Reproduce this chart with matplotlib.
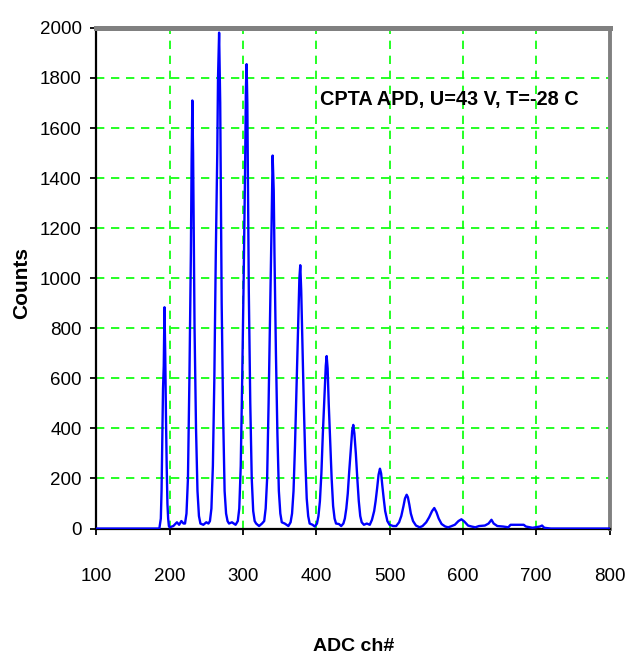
import matplotlib
matplotlib.use("Agg")
import matplotlib.pyplot as plt

# ---- data ----
channels = [
    100, 186, 188, 189, 190, 191, 192, 193, 194, 195, 196, 197, 198, 199, 200,
    205, 210, 213, 216, 219,
    221, 223, 225, 227, 229, 230, 231, 232, 233, 234, 236, 238, 240, 242, 246, 250,
    253, 255, 257, 259, 261, 263, 265, 266, 267.5, 269, 270, 271, 273, 275, 277, 279, 281, 285,
    290, 293, 295, 297, 299, 301, 303, 304, 305, 306, 307, 308, 310, 312, 314, 316, 318, 322,
    326, 329, 331, 333, 335, 337, 339, 340.5, 342, 343, 345, 347, 349, 351, 353, 357,
    362, 365, 367, 369, 371, 373, 375, 377, 378.2, 379.5, 381, 383, 385, 387, 389, 391, 395,
    398, 401, 403, 405, 407, 409, 411, 413, 414.2, 415.5, 417, 419, 421, 423, 425, 427, 431,
    434, 437, 439, 441, 443, 445, 447, 449, 450.5, 452, 454, 456, 458, 460, 462, 465, 469,
    473, 476, 479, 481, 483, 485, 486.9, 488.5, 490, 492, 494, 497, 500, 505,
    509, 513, 516, 519, 521, 523.3, 525, 527, 529, 532, 536, 541,
    545, 550, 554, 558, 561, 564, 567, 571, 576, 580,
    583, 589, 594, 598, 602, 607, 612, 617,
    622, 630, 635, 639, 642, 647, 655, 662,
    665, 683, 686, 695, 705, 708, 711, 720, 800,
]
counts = [
    0, 0, 40, 150, 350, 560, 650, 884, 700, 450, 250, 100, 40, 10, 5,
    10, 25, 15, 30, 20,
    20, 60, 200, 600, 1100, 1470, 1710, 1500, 1165, 800, 400, 150, 50, 20, 15, 25,
    20, 30, 80, 250, 600, 1100, 1500, 1800, 1981, 1700, 1300, 900, 450, 150, 60, 30, 20, 25,
    15, 30, 80, 250, 600, 1000, 1450, 1750, 1855, 1700, 1300, 950, 500, 200, 70, 30, 20, 10,
    20, 30, 80, 200, 500, 850, 1200, 1490, 1350, 1100, 700, 380, 150, 60, 25, 20,
    10, 25, 60, 150, 330, 550, 780, 1000, 1052, 950, 750, 500, 280, 120, 50, 20, 15,
    8, 20, 50, 110, 220, 380, 520, 650, 689, 640, 500, 350, 200, 90, 40, 20, 18,
    10, 20, 40, 80, 140, 230, 310, 390, 414, 380, 300, 200, 110, 50, 25, 15, 20,
    15, 35, 70, 110, 160, 215, 239, 220, 175, 120, 70, 30, 15, 10,
    10, 25, 50, 90, 120, 135, 125, 95, 60, 30, 12, 5,
    10, 25, 45, 70, 82, 65, 40, 18, 8, 5,
    8, 15, 30, 37, 28, 12, 8, 5,
    10, 12, 20, 35, 20, 10, 8, 5,
    15, 15, 8, 3, 8, 12, 3, 0, 0,
]

x_ticks = [100, 200, 300, 400, 500, 600, 700, 800]
y_ticks = [0, 200, 400, 600, 800, 1000, 1200, 1400, 1600, 1800, 2000]
title_text = "CPTA APD, U=43 V, T=-28 C"
x_label = "ADC ch#"
y_label = "Counts"

fam = ["Liberation Sans", "DejaVu Sans"]

fig = plt.figure(figsize=(6.27, 6.64), dpi=100)
ax = fig.add_axes([0.1536, 0.204, 0.8185, 0.754])

ax.plot(channels, counts, color="#0000FF", lw=1.7, zorder=3, solid_joinstyle="round")

ax.set_xlim(100, 800)
ax.set_ylim(0, 2000)
ax.set_xticks(x_ticks)
ax.set_yticks(y_ticks)
ax.set_xticklabels([str(v) for v in x_ticks], family=fam, fontsize=13.5)
ax.set_yticklabels([str(v) for v in y_ticks], family=fam, fontsize=13.5)
ax.tick_params(axis="both", direction="out", length=4.5, width=1.3, color="black")
ax.tick_params(axis="x", pad=24)
ax.tick_params(axis="y", pad=6)

ax.grid(True, color="#00FF00", lw=1.2, linestyle=(0, (5, 4)), zorder=1)
ax.set_axisbelow(True)

for side in ("left", "bottom"):
    ax.spines[side].set_color("black")
    ax.spines[side].set_linewidth(1.6)
ax.spines["top"].set_color("#808080")
ax.spines["top"].set_linewidth(3.6)
ax.spines["right"].set_color("#808080")
ax.spines["right"].set_linewidth(2.8)

ax.text(405, 1714, title_text, family=fam, fontsize=14.3, fontweight="bold",
        va="center", ha="left", zorder=4)

ax.set_xlabel(x_label, family=fam, fontsize=14, fontweight="bold")
ax.xaxis.set_label_coords(0.502, -0.235)
ax.xaxis.label.set_verticalalignment("center")
ax.set_ylabel(y_label, family=fam, fontsize=15, fontweight="bold")
ax.yaxis.set_label_coords(-0.145, 0.49)
ax.yaxis.label.set_verticalalignment("center")

fig.savefig("out.png", dpi=100)
